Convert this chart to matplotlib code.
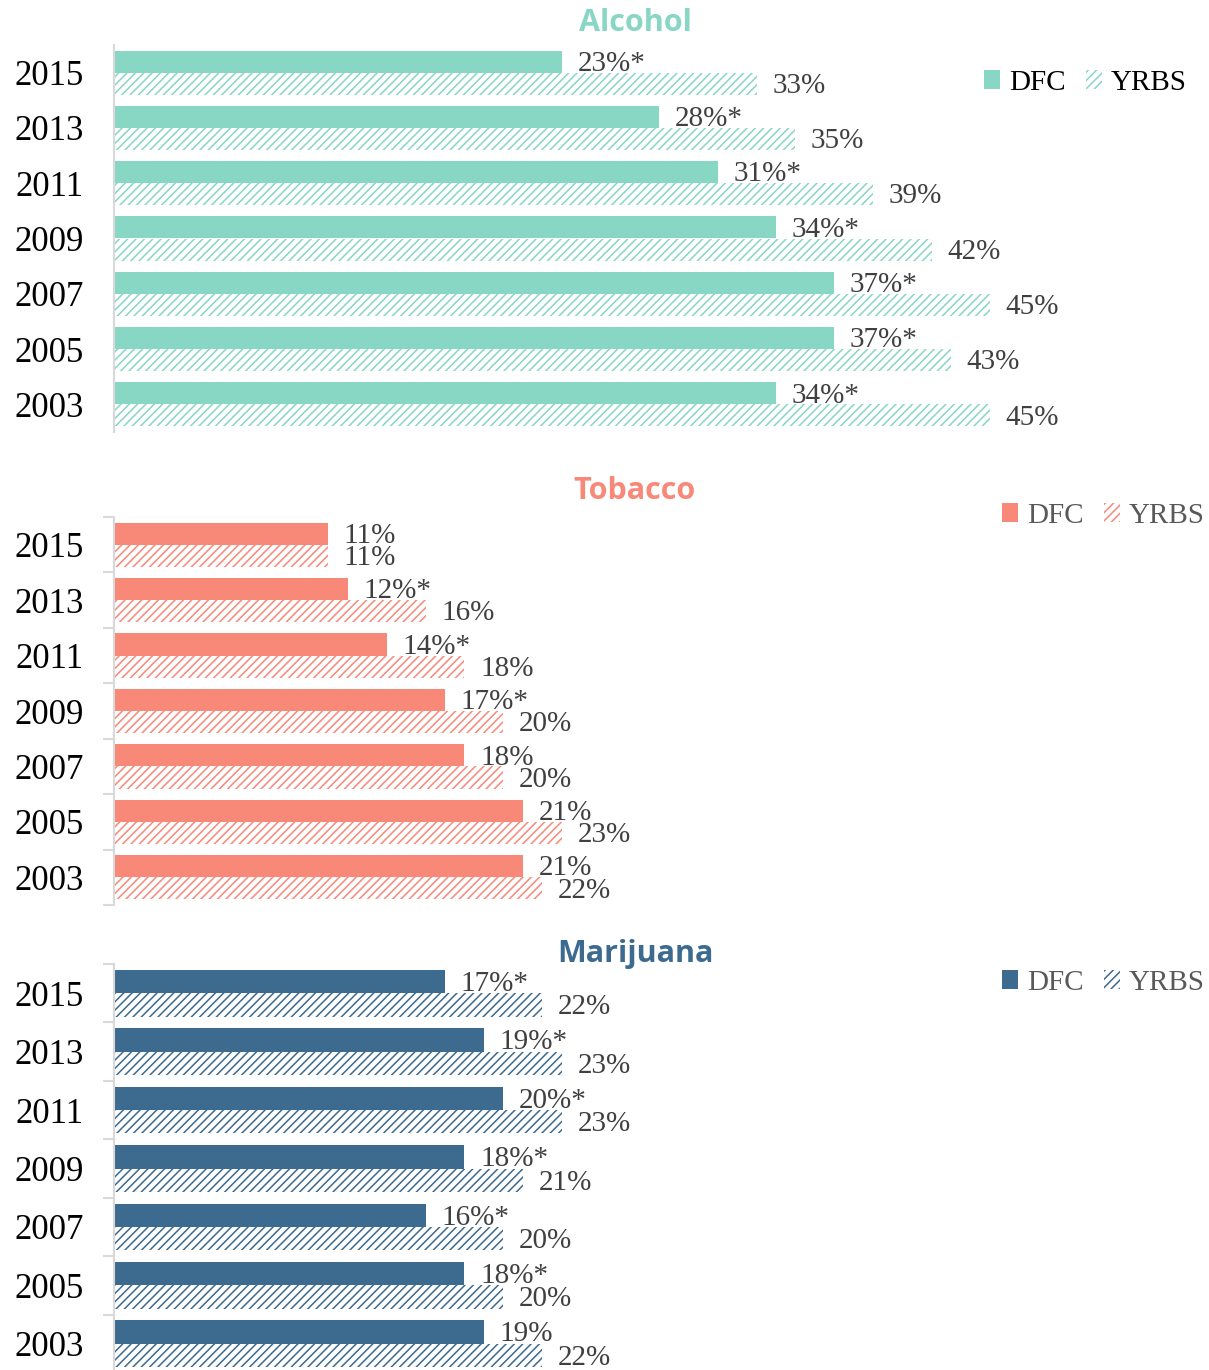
import numpy as np
import matplotlib.pyplot as plt

# Data
years = ['2015', '2013', '2011', '2009', '2007', '2005', '2003']

alcohol_dfc = [23, 28, 31, 34, 37, 37, 34]
alcohol_dfc_star = [True, True, True, True, True, True, True]
alcohol_yrbs = [33, 35, 39, 42, 45, 43, 45]

tobacco_dfc = [11, 12, 14, 17, 18, 21, 21]
tobacco_dfc_star = [False, True, True, True, False, False, False]
tobacco_yrbs = [11, 16, 18, 20, 20, 23, 22]

marijuana_dfc = [17, 19, 20, 18, 16, 18, 19]
marijuana_dfc_star = [True, True, True, True, True, True, False]
marijuana_yrbs = [22, 23, 23, 21, 20, 20, 22]

plt.rcParams['hatch.linewidth'] = 1.1
serif = 'Liberation Serif'

W, H = 1209, 1370
fig = plt.figure(figsize=(W / 100, H / 100), dpi=100)

# panel: (title, color, dfc, stars, yrbs, axis top px, axis height px, ticks, legend y px, legend x px, legend text color, title y px)
panels = [
    ('Alcohol', '#88D6C4', alcohol_dfc, alcohol_dfc_star, alcohol_yrbs,
     45, 387, False, 83, 984, 'black', 23),
    ('Tobacco', '#F88878', tobacco_dfc, tobacco_dfc_star, tobacco_yrbs,
     517, 388, True, 516, 1002, '#595959', 491),
    ('Marijuana', '#3D6B8F', marijuana_dfc, marijuana_dfc_star, marijuana_yrbs,
     964, 409, True, 983, 1002, '#595959', 954),
]

left = 114
px_per_unit = 19.47
xmax = (W - left) / px_per_unit

for title, color, dfc, stars, yrbs, top, height, ticks, ly, lx, lcol, ty in panels:
    ax = fig.add_axes([left / W, 1 - (top + height) / H, (W - left) / W, height / H])
    y = np.arange(len(years))
    b1 = ax.barh(y - 0.2, dfc, height=0.4, color=color, linewidth=0, label='DFC')
    b2 = ax.barh(y + 0.2, yrbs, height=0.4, facecolor='white', edgecolor=color,
                 hatch='////', linewidth=0, label='YRBS')
    for i in range(len(years)):
        txt = f'{dfc[i]}%' + ('*' if stars[i] else '')
        ax.text(dfc[i] + 0.8, y[i] - 0.16, txt, va='center', ha='left',
                fontsize=21, family=serif, color='#404040')
        ax.text(yrbs[i] + 0.8, y[i] + 0.24, f'{yrbs[i]}%', va='center', ha='left',
                fontsize=21, family=serif, color='#404040')
    ax.set_xlim(0, xmax)
    ax.set_ylim(len(years) - 0.5, -0.5)
    ax.set_yticks(y)
    ax.set_yticklabels(years, family=serif, fontsize=25)
    ax.set_xticks([])
    for s in ['top', 'right', 'bottom']:
        ax.spines[s].set_visible(False)
    ax.spines['left'].set_color('#D9D9D9')
    ax.spines['left'].set_linewidth(1.5)
    ax.tick_params(axis='y', which='major', length=0, pad=22)
    if ticks:
        ax.set_yticks(np.arange(-0.5, len(years), 1.0), minor=True)
        ax.tick_params(axis='y', which='minor', length=8, width=1.5, color='#D9D9D9')
    fig.text(635 / W, 1 - ty / H, title, ha='center', va='center', fontsize=22,
             family='Open Sans', weight='bold', color=color)
    fig.legend(handles=[b1, b2], loc='center left', bbox_to_anchor=(lx / W, 1 - ly / H),
               ncol=2, frameon=False, handlelength=0.55, handleheight=0.6,
               handletextpad=0.3, columnspacing=0.7, borderpad=0, borderaxespad=0,
               prop={'family': serif, 'size': 21}, labelcolor=lcol)

fig.savefig('out.png', dpi=100)
